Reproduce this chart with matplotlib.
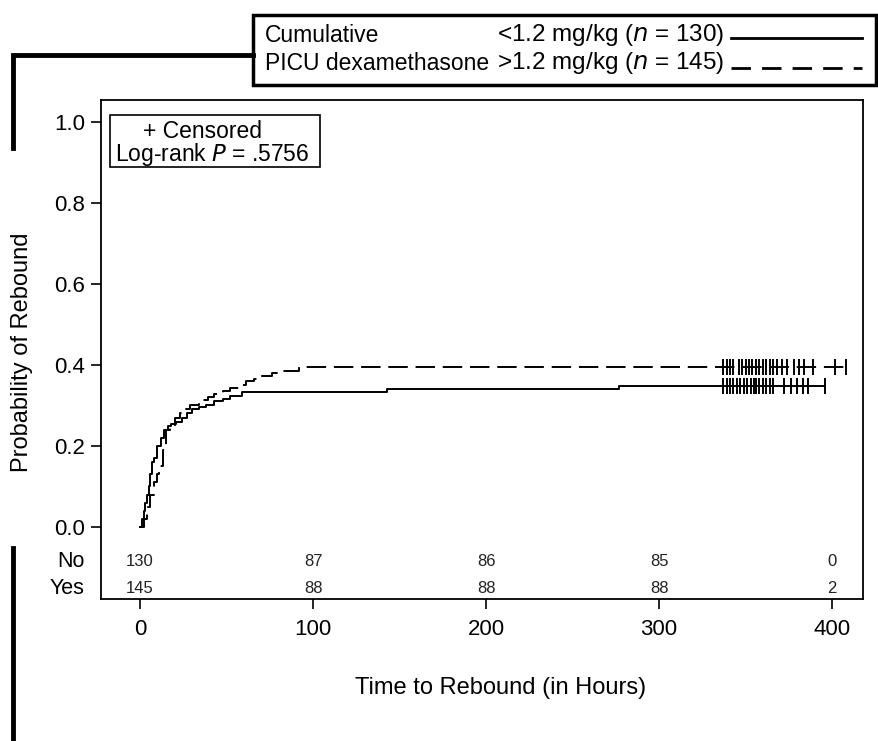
import matplotlib
matplotlib.use("Agg")
import matplotlib.pyplot as plt
from matplotlib.lines import Line2D
from matplotlib.patches import Rectangle

plt.rcParams["font.family"] = ["Liberation Sans", "DejaVu Sans"]

# Kaplan-Meier style cumulative probability of rebound
low_t = [0, 1, 2, 3, 4, 5, 6, 7, 8, 10, 12, 14, 16, 18, 21, 24, 27, 30, 34, 38, 43, 48, 52, 59, 143, 277]
low_p = [0, 0.02, 0.04, 0.06, 0.08, 0.10, 0.13, 0.16, 0.17, 0.20, 0.22, 0.24, 0.25, 0.255, 0.26, 0.27,
         0.28, 0.29, 0.295, 0.30, 0.31, 0.315, 0.323, 0.333, 0.340, 0.348]
low_end = 396
low_cens = [337, 339, 341, 343, 345, 347, 349, 351, 353, 355, 356, 358, 360, 362, 364, 366,
            372, 376, 380, 383, 386, 396]

high_t = [0, 2, 4, 6, 8, 10, 11, 13, 15, 17, 20, 23, 26, 29, 34, 39, 43, 48, 52, 57, 61, 66, 70, 76, 82, 92]
high_p = [0, 0.02, 0.05, 0.08, 0.11, 0.13, 0.15, 0.19, 0.24, 0.25, 0.27, 0.28, 0.29, 0.30, 0.313, 0.32,
          0.328, 0.335, 0.343, 0.35, 0.36, 0.365, 0.373, 0.38, 0.385, 0.394]
high_end = 408
high_cens = [337, 339, 341, 343, 346, 348, 350, 352, 354, 356, 358, 360, 362, 364, 366, 368,
             371, 374, 378, 381, 384, 389, 402, 408]

risk_times = [0, 100, 200, 300, 400]
risk_no = ["130", "87", "86", "85", "0"]
risk_yes = ["145", "88", "88", "88", "2"]

W, H = 879, 741
fig = plt.figure(figsize=(W / 100, H / 100), dpi=100)
ax = fig.add_axes([101 / W, 1 - 599 / H, (863 - 101) / W, (599 - 100) / H])

ax.step(low_t + [low_end], low_p + [low_p[-1]], where="post", color="black", lw=1.4)
ax.step(high_t + [high_end], high_p + [high_p[-1]], where="post", color="black", lw=1.4,
        dashes=(10, 4))
ax.plot(low_cens, [low_p[-1]] * len(low_cens), ls="none", marker="|", ms=11, mew=1.4, color="black")
ax.plot(high_cens, [high_p[-1]] * len(high_cens), ls="none", marker="|", ms=11, mew=1.4, color="black")

ax.set_xlim(-22.6, 417.9)
ax.set_ylim(-0.178, 1.054)
ax.set_yticks([0, 0.2, 0.4, 0.6, 0.8, 1.0])
ax.set_yticklabels(["0.0", "0.2", "0.4", "0.6", "0.8", "1.0"])
ax.set_xticks(risk_times)
ax.tick_params(axis="both", direction="out", length=7.5, width=1.2, labelsize=16, pad=4)
ax.tick_params(axis="x", pad=7)
for s in ax.spines.values():
    s.set_linewidth(1.3)

# number at risk rows
for t, n0, n1 in zip(risk_times, risk_no, risk_yes):
    ax.text(t, -0.086, n0, ha="center", va="center", fontsize=12, color="#222222")
    ax.text(t, -0.151, n1, ha="center", va="center", fontsize=12, color="#222222")
ax.text(-0.022, -0.086, "No", transform=ax.get_yaxis_transform(), ha="right", va="center", fontsize=15.5)
ax.text(-0.022, -0.151, "Yes", transform=ax.get_yaxis_transform(), ha="right", va="center", fontsize=15.5)

# inset box: censored / log-rank
fig.add_artist(Rectangle((110 / W, 1 - 167 / H), 210 / W, 52 / H, transform=fig.transFigure,
                         fill=False, lw=1.2, ec="black"))
fig.text(143 / W, 1 - 131 / H, "+ Censored", ha="left", va="center", fontsize=16.5)
fig.text(115 / W, 1 - 154 / H, "Log-rank $\\it{P}$ = .5756", ha="left", va="center", fontsize=16.5)

fig.text(22 / W, 1 - 352 / H, "Probability of Rebound", rotation=90, ha="center", va="center", fontsize=17)
fig.text(501 / W, 1 - 688 / H, "Time to Rebound (in Hours)", ha="center", va="center", fontsize=17)

# legend box at the top
fig.add_artist(Rectangle((253 / W, 1 - 85 / H), 623 / W, 70 / H, transform=fig.transFigure,
                         fill=False, lw=2.5, ec="black"))
fig.text(265 / W, 1 - 35 / H, "Cumulative", ha="left", va="center", fontsize=16.5)
fig.text(265 / W, 1 - 63 / H, "PICU dexamethasone", ha="left", va="center", fontsize=16.5)
fig.text(497 / W, 1 - 35 / H, "<1.2 mg/kg ($\\it{n}$ = 130)", ha="left", va="center", fontsize=17.5)
fig.text(497 / W, 1 - 63 / H, ">1.2 mg/kg ($\\it{n}$ = 145)", ha="left", va="center", fontsize=17.5)
fig.add_artist(Line2D([731 / W, 862 / W], [1 - 38 / H, 1 - 38 / H], color="black", lw=2))
fig.add_artist(Line2D([731 / W, 862 / W], [1 - 68 / H, 1 - 68 / H], color="black", lw=2, dashes=(7, 4)))

# leftover bracket lines from the original layout
fig.add_artist(Line2D([13 / W, 13 / W, 253 / W], [1 - 148 / H, 1 - 55 / H, 1 - 55 / H],
                      color="black", lw=3.5, solid_joinstyle="miter"))
fig.add_artist(Line2D([13 / W, 13 / W], [1 - 548 / H, 0], color="black", lw=3.5))

fig.savefig("out.png", dpi=100)
